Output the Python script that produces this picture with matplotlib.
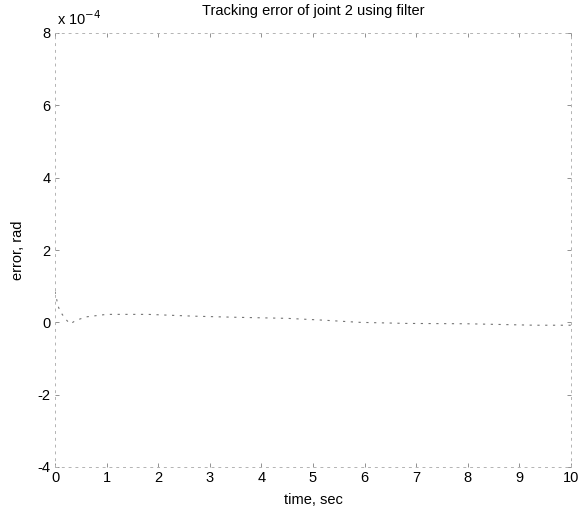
import matplotlib
matplotlib.use("Agg")
import matplotlib.pyplot as plt

plt.rcParams['font.family'] = ['Liberation Sans', 'DejaVu Sans']
plt.rcParams['axes.unicode_minus'] = False

# Data (error in units of 1e-4 rad)
time_s = [0.0, 0.03, 0.06, 0.1, 0.15, 0.2, 0.25, 0.3, 0.4, 0.6, 1.0, 1.8, 2.7, 3.5,
          4.5, 5.2, 5.9, 6.8, 8.0, 9.3, 10.0]
err_e4 = [0.85, 0.65, 0.45, 0.3, 0.2, 0.1, 0.02, -0.04, 0.05, 0.15, 0.22, 0.22, 0.17,
          0.14, 0.11, 0.06, 0.0, -0.03, -0.04, -0.08, -0.08]
x_ticks = [0, 1, 2, 3, 4, 5, 6, 7, 8, 9, 10]
y_ticks = [-4, -2, 0, 2, 4, 6, 8]

fig = plt.figure(figsize=(5.81, 5.14), dpi=100)
ax = fig.add_axes([55/581, 1-467/514, (571-55)/581, (467-33)/514])

ax.plot(time_s, err_e4, color='0.45', lw=0.8, ls=(0, (2, 5)))

ax.set_xlim(0, 10)
ax.set_ylim(-4, 8)
ax.set_xticks(x_ticks)
ax.set_yticks(y_ticks)
ax.tick_params(direction='in', length=3, width=0.6, color='0.5', labelsize=10.5,
               top=True, right=True, pad=3)
for s in ax.spines.values():
    s.set_color('0.7')
    s.set_linewidth(0.7)
    s.set_linestyle((0, (2, 5)))

ax.set_title('Tracking error of joint 2 using filter', fontsize=10.5, pad=13)
ax.set_xlabel('time, sec', fontsize=10.5, labelpad=6)
ax.set_ylabel('error, rad', fontsize=10.5, labelpad=9)
fig.text(57/581, 1-19/514, r'x 10$^{-4}$', fontsize=10.5, va='center', ha='left')

fig.savefig('out.png', dpi=100)
